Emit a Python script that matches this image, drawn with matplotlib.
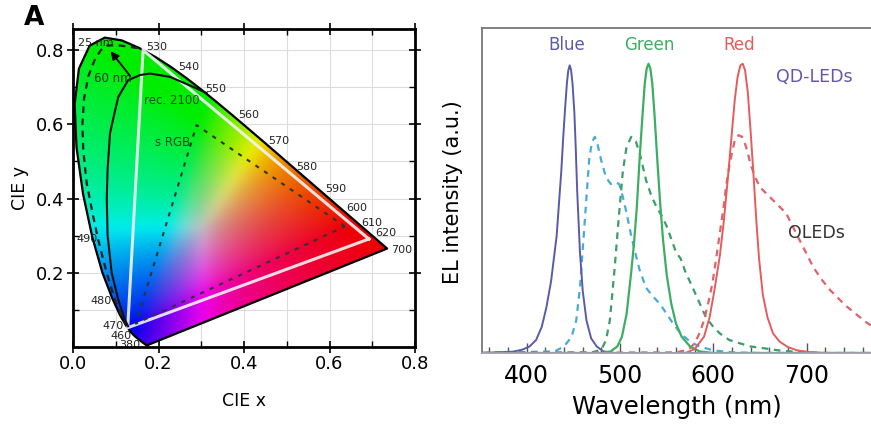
import matplotlib
matplotlib.use('Agg')
import matplotlib.pyplot as plt
import numpy as np
from matplotlib.patches import Polygon
from matplotlib.ticker import MultipleLocator

plt.rcParams['font.family'] = ['DejaVu Sans']

# ---- CIE 1931 spectral locus ----
locus_nm = [380, 420, 440, 450, 460, 465, 470, 475, 480, 485, 490, 495, 500, 505, 510,
            515, 520, 525, 530, 535, 540, 545, 550, 555, 560, 565, 570, 575, 580, 585,
            590, 595, 600, 610, 620, 630, 640, 650, 700]
locus_x = [0.1741, 0.1714, 0.1644, 0.1566, 0.1440, 0.1355, 0.1241, 0.1096, 0.0913, 0.0687,
           0.0454, 0.0235, 0.0082, 0.0039, 0.0139, 0.0389, 0.0743, 0.1142, 0.1547, 0.1929,
           0.2296, 0.2658, 0.3016, 0.3373, 0.3731, 0.4087, 0.4441, 0.4788, 0.5125, 0.5448,
           0.5752, 0.6029, 0.6270, 0.6658, 0.6915, 0.7079, 0.7190, 0.7260, 0.7347]
locus_y = [0.0050, 0.0051, 0.0109, 0.0177, 0.0297, 0.0399, 0.0578, 0.0868, 0.1327, 0.2007,
           0.2950, 0.4127, 0.5384, 0.6548, 0.7502, 0.8120, 0.8338, 0.8262, 0.8059, 0.7816,
           0.7543, 0.7243, 0.6923, 0.6589, 0.6245, 0.5896, 0.5547, 0.5202, 0.4866, 0.4544,
           0.4242, 0.3965, 0.3725, 0.3340, 0.3083, 0.2920, 0.2809, 0.2740, 0.2653]

# gamut triangles (R, G, B)
rec2100_x = [0.692, 0.164, 0.128]
rec2100_y = [0.291, 0.800, 0.052]
srgb_x = [0.636, 0.289, 0.147]
srgb_y = [0.325, 0.598, 0.063]

# gamut boundaries for 25 nm and 60 nm FWHM emitters
fwhm25_x = [0.128, 0.118, 0.098, 0.079, 0.059, 0.0475, 0.032, 0.024, 0.022, 0.026, 0.036,
            0.050, 0.065, 0.080, 0.100, 0.125, 0.155]
fwhm25_y = [0.056, 0.073, 0.127, 0.199, 0.289, 0.351, 0.442, 0.531, 0.600, 0.670, 0.730,
            0.772, 0.800, 0.812, 0.814, 0.810, 0.805]
fwhm60_x = [0.129, 0.1216, 0.106, 0.0905, 0.081, 0.079, 0.081, 0.0866, 0.097, 0.106, 0.129,
            0.157, 0.180, 0.227, 0.281, 0.313]
fwhm60_y = [0.056, 0.073, 0.127, 0.200, 0.300, 0.400, 0.480, 0.576, 0.630, 0.674, 0.719,
            0.733, 0.737, 0.728, 0.701, 0.684]

# wavelength labels on the locus: text, x, y, ha
wl_labels = [('530', 0.172, 0.809, 'left'), ('540', 0.246, 0.755, 'left'),
             ('550', 0.309, 0.694, 'left'), ('560', 0.387, 0.625, 'left'),
             ('570', 0.457, 0.556, 'left'), ('580', 0.523, 0.486, 'left'),
             ('590', 0.589, 0.425, 'left'), ('600', 0.640, 0.374, 'left'),
             ('610', 0.675, 0.335, 'left'), ('620', 0.706, 0.307, 'left'),
             ('700', 0.743, 0.262, 'left'), ('490', 0.058, 0.291, 'right'),
             ('480', 0.090, 0.125, 'right'), ('470', 0.118, 0.056, 'right'),
             ('460', 0.137, 0.029, 'right'), ('380', 0.157, 0.006, 'right')]

# ---- EL spectra ----
qd_blue_nm = [352, 385, 395, 403, 410, 416, 421, 426, 432, 437, 439, 441, 443, 444.5, 446,
              447.5, 449, 451, 452.5, 454, 457, 460, 464, 469, 475, 482, 495, 770]
qd_blue = [0, 0.004, 0.01, 0.02, 0.04, 0.08, 0.14, 0.22, 0.36, 0.56, 0.66, 0.75, 0.83, 0.87,
           0.885, 0.87, 0.83, 0.74, 0.63, 0.50, 0.31, 0.19, 0.10, 0.045, 0.02, 0.005, 0, 0]

qd_green_nm = [352, 480, 490, 497, 502, 507, 512, 515, 518, 521, 524, 526.5, 528.5, 530.5,
               532.5, 534.5, 537, 540, 543, 546, 550, 555, 560, 566, 575, 585, 600, 770]
qd_green = [0, 0, 0.005, 0.02, 0.05, 0.12, 0.25, 0.34, 0.45, 0.60, 0.73, 0.83, 0.875, 0.89,
            0.875, 0.83, 0.73, 0.59, 0.46, 0.35, 0.24, 0.15, 0.09, 0.05, 0.02, 0.005, 0, 0]

qd_red_nm = [352, 570, 580, 590, 596, 601, 607, 611, 615, 619, 623, 626, 629, 631.5, 634,
             637, 640, 643, 646, 649, 653, 658, 664, 671, 680, 690, 705, 720, 770]
qd_red = [0, 0, 0.012, 0.05, 0.11, 0.19, 0.30, 0.40, 0.52, 0.65, 0.78, 0.85, 0.885, 0.89,
          0.87, 0.80, 0.68, 0.55, 0.41, 0.29, 0.18, 0.11, 0.06, 0.035, 0.018, 0.008, 0.002,
          0, 0]

oled_blue_nm = [352, 430, 440, 448, 453, 457, 460, 463, 467, 470, 473, 476, 480, 485, 490,
                495, 499, 503, 507, 512, 517, 521, 528, 535, 543, 550, 557, 565, 575, 585,
                600, 620, 650, 770]
oled_blue = [0, 0.005, 0.02, 0.05, 0.10, 0.20, 0.32, 0.44, 0.60, 0.65, 0.665, 0.64, 0.59,
             0.54, 0.52, 0.525, 0.52, 0.48, 0.43, 0.36, 0.30, 0.255, 0.20, 0.175, 0.15, 0.12,
             0.09, 0.06, 0.035, 0.02, 0.008, 0.002, 0, 0]

oled_green_nm = [352, 470, 480, 485, 489, 494, 499, 503, 507, 512, 517, 521, 528, 534, 539,
                 545, 550, 555, 560, 565, 570, 578, 585, 592, 600, 607, 617, 628, 640, 653,
                 670, 690, 720, 770]
oled_green = [0, 0.002, 0.01, 0.04, 0.10, 0.255, 0.43, 0.56, 0.635, 0.665, 0.65, 0.615, 0.53,
              0.48, 0.45, 0.42, 0.39, 0.35, 0.31, 0.29, 0.25, 0.20, 0.155, 0.11, 0.08, 0.06,
              0.04, 0.03, 0.02, 0.015, 0.008, 0.003, 0, 0]

oled_red_nm = [352, 560, 570, 575, 580, 585, 590, 595, 599, 603, 607, 611, 614, 618, 623,
               627, 631, 635, 640, 645, 650, 657, 664, 671, 678, 685, 692, 700, 707, 715,
               725, 735, 743, 755, 765, 772]
oled_red = [0, 0.002, 0.008, 0.015, 0.03, 0.06, 0.10, 0.16, 0.215, 0.29, 0.37, 0.45, 0.52,
            0.59, 0.655, 0.67, 0.665, 0.635, 0.58, 0.54, 0.51, 0.49, 0.47, 0.45, 0.43, 0.39,
            0.35, 0.305, 0.265, 0.23, 0.194, 0.165, 0.143, 0.115, 0.092, 0.08]

# colours
C_BLUE = '#5b5aa8'
C_GREEN = '#3cae62'
C_RED = '#e65c5c'
C_CYAN_D = '#46acd6'
C_GREEN_D = '#3f9c6a'
C_RED_D = '#e0626a'


def box_blur(a, k, axis):
    # simple moving-average blur along one axis, edge padded
    pad = [(0, 0)] * a.ndim
    pad[axis] = (k // 2, k - k // 2)
    ap = np.pad(a, pad, mode='edge')
    c = np.cumsum(ap, axis=axis)
    c = np.insert(c, 0, 0, axis=axis)
    n = a.shape[axis]
    hi = np.take(c, np.arange(k, k + n), axis=axis)
    lo = np.take(c, np.arange(0, n), axis=axis)
    return (hi - lo) / k


fig = plt.figure(figsize=(8.71, 4.24), dpi=100, facecolor='white')

# ================= Panel A: CIE diagram =================
ax1 = fig.add_axes([0.0838, 0.1816, 0.3927, 0.75])
ax1.set_xlim(0, 0.8)
ax1.set_ylim(0, 0.857)
ax1.set_axisbelow(True)
ax1.grid(True, which='both', color='#dcdcdc', lw=0.8)

# chromaticity colour fill
gx = np.linspace(0, 0.8, 500)
gy = np.linspace(0.001, 0.857, 500)
GX, GY = np.meshgrid(gx, gy)
Xc = GX / GY
Zc = (1 - GX - GY) / GY
rgb = np.stack([3.2406 * Xc - 1.5372 - 0.4986 * Zc,
                -0.9689 * Xc + 1.8758 + 0.0415 * Zc,
                0.0557 * Xc - 0.2040 + 1.0570 * Zc], axis=-1)
rgb = np.clip(rgb, 0, None) * np.array([1.0, 0.88, 0.85])
rgb = rgb / np.maximum(rgb.max(axis=-1, keepdims=True), 1e-6)
rgb = rgb * (1 - 0.25 * rgb.min(axis=-1, keepdims=True))
rgb = 0.93 * np.power(rgb, 1 / 1.35)
rgb = box_blur(box_blur(rgb, 21, 0), 21, 1)
rgb = np.clip(rgb, 0, 1)
img = ax1.imshow(rgb, extent=[0, 0.8, 0.001, 0.857], origin='lower', aspect='auto', zorder=1)
locus_poly = Polygon(np.column_stack([locus_x, locus_y]), closed=True, transform=ax1.transData,
                     facecolor='none', edgecolor='none')
ax1.add_patch(locus_poly)
img.set_clip_path(locus_poly)

# locus outline
ax1.plot(locus_x + [locus_x[0]], locus_y + [locus_y[0]], color='black', lw=1.6, zorder=3)

# gamut triangles
ax1.plot(rec2100_x + [rec2100_x[0]], rec2100_y + [rec2100_y[0]], color='#f4f4f4', lw=2.2,
         alpha=0.9, zorder=4, solid_joinstyle='miter')
ax1.plot(srgb_x + [srgb_x[0]], srgb_y + [srgb_y[0]], color='#333333', lw=1.5,
         linestyle=(0, (2, 3)), zorder=4)
ax1.plot(fwhm25_x, fwhm25_y, color='#222222', lw=1.6, linestyle=(0, (3, 2.5)), zorder=4)
ax1.plot(fwhm60_x, fwhm60_y, color='#111111', lw=1.5, zorder=4)
ax1.annotate('', xy=(0.084, 0.803), xytext=(0.138, 0.724),
             arrowprops=dict(arrowstyle='-|>', color='black', lw=1.3, mutation_scale=12),
             zorder=5)

ax1.text(0.012, 0.819, '25 nm', fontsize=8, color='#222222', ha='left', va='center', zorder=6)
ax1.text(0.048, 0.724, '60 nm', fontsize=8.5, color='#1a3a1a', ha='left', va='center', zorder=6)
ax1.text(0.165, 0.665, 'rec. 2100', fontsize=8.5, color='#2a4a2a', ha='left', va='center', zorder=6)
ax1.text(0.192, 0.550, 's RGB', fontsize=8.5, color='#2a4a2a', ha='left', va='center', zorder=6)

for txt, tx, ty, ha in wl_labels:
    ax1.text(tx, ty, txt, fontsize=8, color='#222222', ha=ha, va='center', zorder=6,
             clip_on=(txt == '380'))

ax1.set_xticks([0.0, 0.2, 0.4, 0.6, 0.8])
ax1.set_xticklabels(['0.0', '0.2', '0.4', '0.6', '0.8'])
ax1.set_yticks([0.2, 0.4, 0.6, 0.8])
ax1.set_yticklabels(['0.2', '0.4', '0.6', '0.8'])
ax1.xaxis.set_minor_locator(MultipleLocator(0.1))
ax1.yaxis.set_minor_locator(MultipleLocator(0.1))
ax1.tick_params(which='major', direction='inout', length=8, width=1.2, labelsize=13, pad=2,
                top=True, right=True)
ax1.tick_params(which='minor', direction='in', length=4, width=1, top=True, right=True)
for sp in ax1.spines.values():
    sp.set_linewidth(2)
    sp.set_color('black')
    sp.set_zorder(7)
ax1.set_xlabel('CIE x', fontsize=12.5)
ax1.set_ylabel('CIE y', fontsize=12.5)
ax1.xaxis.set_label_coords(0.5, -0.14)
ax1.yaxis.set_label_coords(-0.13, 0.5)

fig.text(34 / 871, 1 - 18 / 424, 'A', fontsize=19, fontweight='bold', ha='center', va='center')

# ================= Panel B: EL spectra =================
ax2 = fig.add_axes([0.5534, 0.1675, 0.4466, 0.7665])
ax2.set_xlim(352, 769)
ax2.set_ylim(0, 1)

ax2.plot(oled_blue_nm, oled_blue, color=C_CYAN_D, lw=1.6, linestyle=(0, (3, 2.5)))
ax2.plot(oled_green_nm, oled_green, color=C_GREEN_D, lw=1.6, linestyle=(0, (3, 2.5)))
ax2.plot(oled_red_nm, oled_red, color=C_RED_D, lw=1.6, linestyle=(0, (3, 2.5)))
ax2.plot(qd_blue_nm, qd_blue, color=C_BLUE, lw=1.4)
ax2.plot(qd_green_nm, qd_green, color=C_GREEN, lw=1.6)
ax2.plot(qd_red_nm, qd_red, color=C_RED, lw=1.4)

ax2.text(442.5, 0.948, 'Blue', color=C_BLUE, fontsize=12, ha='center', va='center')
ax2.text(531.8, 0.948, 'Green', color=C_GREEN, fontsize=12, ha='center', va='center')
ax2.text(628, 0.948, 'Red', color=C_RED, fontsize=12, ha='center', va='center')
ax2.text(708.6, 0.85, 'QD-LEDs', color='#6656aa', fontsize=12.5, ha='center', va='center')
ax2.text(710.4, 0.368, 'OLEDs', color='#333333', fontsize=12.5, ha='center', va='center')

ax2.set_xticks([400, 500, 600, 700])
ax2.xaxis.set_minor_locator(MultipleLocator(20))
ax2.set_yticks([])
ax2.tick_params(axis='x', which='major', direction='in', length=7, width=1, color='#555555',
                labelsize=17, pad=8)
ax2.tick_params(axis='x', which='minor', direction='in', length=4, width=1, color='#555555')
ax2.spines['right'].set_visible(False)
ax2.spines['top'].set_color('#777777')
ax2.spines['left'].set_color('#777777')
ax2.spines['bottom'].set_color('#9aa4b0')
for sp in ax2.spines.values():
    sp.set_linewidth(1.3)
ax2.set_xlabel('Wavelength (nm)', fontsize=17.5)
ax2.set_ylabel('EL intensity (a.u.)', fontsize=15)
ax2.xaxis.set_label_coords(0.5, -0.13)
ax2.yaxis.set_label_coords(-0.05, 0.496)

fig.savefig('out.png', dpi=100, facecolor='white')
